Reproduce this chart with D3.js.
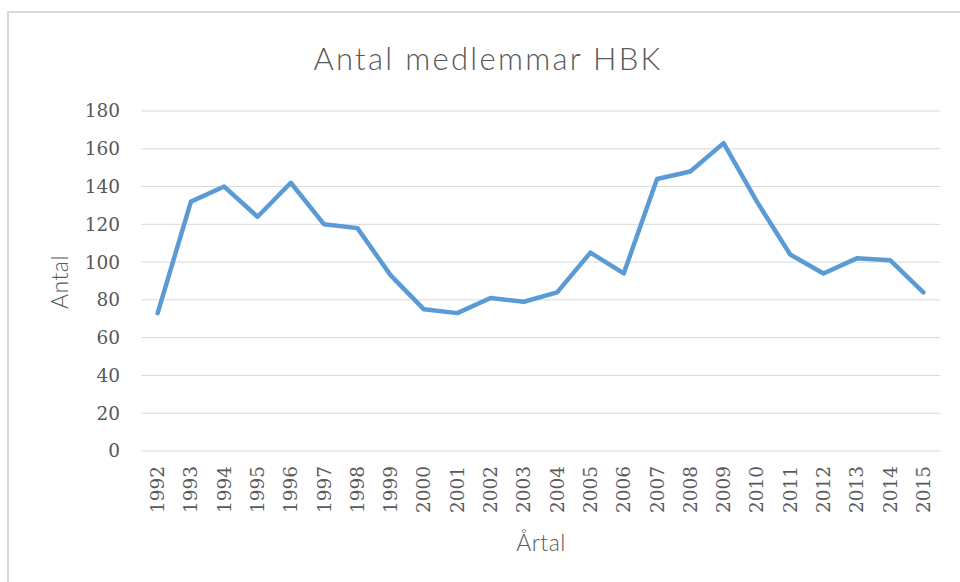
<!DOCTYPE html>
<html><head><meta charset="utf-8">
<script src="https://cdn.jsdelivr.net/npm/d3@7"></script>
<style>body{margin:0;background:#fff}svg{display:block}</style>
</head><body>
<svg id="chart" width="960" height="582"></svg>
<script>
const years = ["1992","1993","1994","1995","1996","1997","1998","1999","2000","2001","2002","2003","2004","2005","2006","2007","2008","2009","2010","2011","2012","2013","2014","2015"];
const members = [73,132,140,124,142,120,118,93,75,73,81,79,84,105,94,144,148,163,132,104,94,102,101,84];
const yTicks = [0,20,40,60,80,100,120,140,160,180];
const title = "Antal medlemmar HBK";
const xTitle = "Årtal";
const yTitle = "Antal";

const svg = d3.select("#chart");
const m = {left:141, right:940, top:111, bottom:451};
svg.append("rect").attr("x",8).attr("y",12).attr("width",980).attr("height",600)
  .attr("fill","#fff").attr("stroke","#d9d9d9").attr("stroke-width",2);

const x = d3.scaleBand().domain(years).range([m.left, m.right]);
const y = d3.scaleLinear().domain([0,180]).range([m.bottom, m.top]);
const grey = "#595959";

svg.append("g").selectAll("line").data(yTicks).join("line")
  .attr("x1",m.left).attr("x2",m.right)
  .attr("y1",d=>y(d)).attr("y2",d=>y(d))
  .attr("stroke","#d9d9d9").attr("stroke-width",1);

const yAxis = svg.append("g").attr("transform",`translate(${m.left},0)`)
  .call(d3.axisLeft(y).tickValues(yTicks).tickSize(0).tickPadding(21));
yAxis.select(".domain").remove();
yAxis.selectAll("text").attr("font-family","'DejaVu Serif'").attr("font-size","18.5px").attr("fill",grey);

const xAxis = svg.append("g").attr("transform",`translate(0,${m.bottom})`)
  .call(d3.axisBottom(x).tickSize(0));
xAxis.select(".domain").remove();
xAxis.selectAll("text")
  .attr("font-family","'DejaVu Serif'").attr("font-size","18.5px").attr("fill",grey)
  .attr("text-anchor","end").attr("dy","0.35em").attr("y",0).attr("x",-15)
  .attr("transform","rotate(-90)");

const line = d3.line().x((d,i)=>x(years[i])+x.bandwidth()/2).y(d=>y(d));
svg.append("path").datum(members).attr("d",line)
  .attr("fill","none").attr("stroke","#5b9bd5").attr("stroke-width",4.5)
  .attr("stroke-linejoin","round").attr("stroke-linecap","round");

svg.append("text").attr("x",488).attr("y",70).attr("text-anchor","middle")
  .attr("font-family","Lato").attr("font-weight",300).attr("font-size","31px")
  .attr("letter-spacing","2.3px").attr("fill",grey).text(title);
svg.append("text").attr("x",541).attr("y",551).attr("text-anchor","middle")
  .attr("font-family","Lato").attr("font-weight",300).attr("font-size","23px")
  .attr("letter-spacing","0.5px").attr("fill",grey).text(xTitle);
svg.append("text").attr("transform","translate(68,282) rotate(-90)").attr("text-anchor","middle")
  .attr("font-family","Lato").attr("font-weight",300).attr("font-size","23px")
  .attr("letter-spacing","0.5px").attr("fill",grey).text(yTitle);
</script>
</body></html>
